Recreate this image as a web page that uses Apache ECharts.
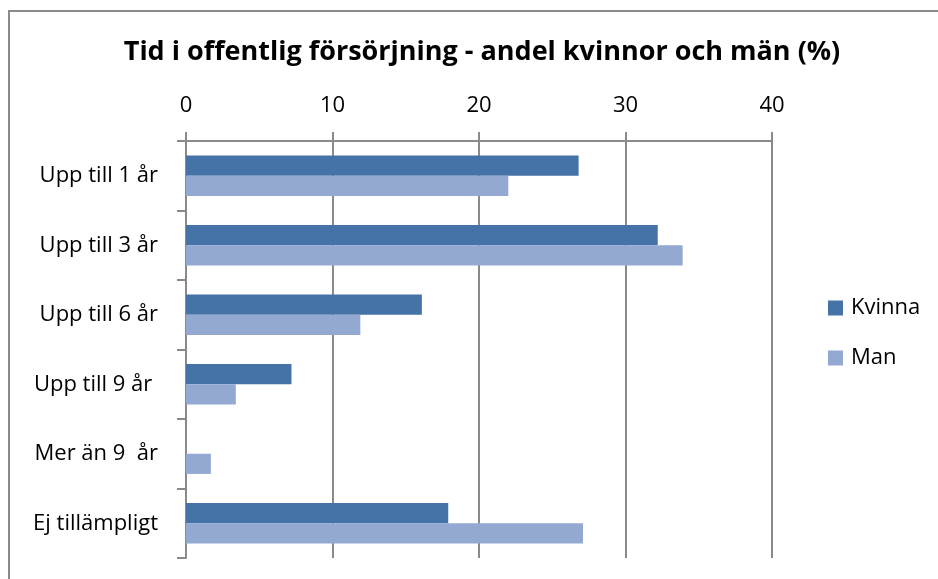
<!DOCTYPE html>
<html>
<head>
<meta charset="utf-8">
<script src="https://cdn.jsdelivr.net/npm/echarts@6/dist/echarts.min.js"></script>
<style>
  html, body { margin: 0; padding: 0; background: #fff; }
  #main { width: 938px; height: 579px; }
</style>
</head>
<body>
<div id="main"></div>
<script>
// kategorier uppifrån och ned
var categories = ['Upp till 1 år', 'Upp till 3 år', 'Upp till 6 år', 'Upp till 9 år ', 'Mer än 9  år', 'Ej tillämpligt'];
// andel (%)
var kvinna = [26.8, 32.2, 16.1, 7.2, 0, 17.9];
var man = [22.0, 33.9, 11.9, 3.4, 1.7, 27.1];
var xTicks = [0, 10, 20, 30, 40];

var chart = echarts.init(document.getElementById('main'));
var fontFam = '"Open Sans", sans-serif';

chart.setOption({
  animation: false,
  textStyle: { fontFamily: fontFam },
  title: {
    text: 'Tid i offentlig försörjning - andel kvinnor och män (%)',
    left: 477,
    textAlign: 'center',
    top: 34,
    textStyle: { fontSize: 27, fontWeight: 'bold', color: '#000', fontFamily: fontFam }
  },
  graphic: [{
    type: 'rect',
    shape: { x: 9, y: 11, width: 960, height: 600 },
    style: { fill: 'none', stroke: '#8a8a8a', lineWidth: 2 },
    silent: true
  }],
  legend: {
    orient: 'vertical',
    left: 828,
    top: 297,
    padding: 0,
    itemWidth: 15,
    itemHeight: 15,
    itemGap: 28,
    icon: 'rect',
    textStyle: { fontSize: 22, color: '#000', fontFamily: fontFam, padding: [0, 0, 0, 3] },
    data: ['Kvinna', 'Man']
  },
  grid: { left: 186, top: 141, right: 166, bottom: 21, containLabel: false },
  xAxis: {
    type: 'value',
    position: 'top',
    min: xTicks[0],
    max: xTicks[xTicks.length - 1],
    interval: 10,
    axisLine: { show: true, lineStyle: { color: '#8a8a8a', width: 2 } },
    axisTick: { show: true, length: 9, lineStyle: { color: '#8a8a8a', width: 2 } },
    splitLine: { show: true, lineStyle: { color: '#8a8a8a', width: 2 } },
    axisLabel: { fontSize: 22, color: '#000', margin: 24, fontFamily: fontFam }
  },
  yAxis: {
    type: 'category',
    inverse: true,
    data: categories,
    axisLine: { show: true, lineStyle: { color: '#8a8a8a', width: 2 } },
    axisTick: { show: true, length: 9, lineStyle: { color: '#8a8a8a', width: 2 } },
    axisLabel: { fontSize: 22, color: '#000', margin: 28, fontFamily: fontFam }
  },
  series: [{
    name: 'Kvinna',
    type: 'bar',
    data: kvinna,
    barGap: '0%',
    barCategoryGap: '42%',
    itemStyle: { color: '#4572a7' }
  }, {
    name: 'Man',
    type: 'bar',
    data: man,
    barGap: '0%',
    barCategoryGap: '42%',
    itemStyle: { color: '#94a9d1' }
  }]
});
</script>
</body>
</html>
